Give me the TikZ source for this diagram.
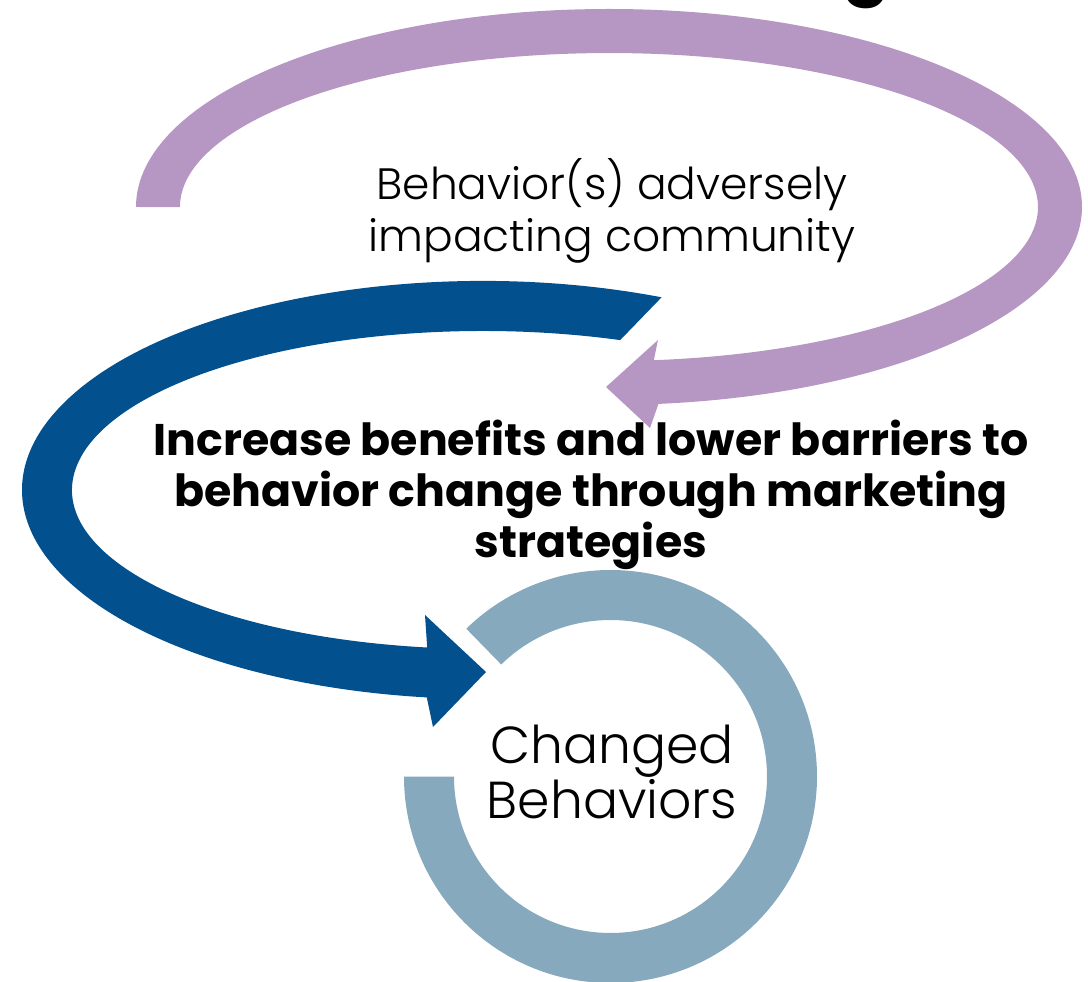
\documentclass[tikz,border=0pt]{standalone}
\usepackage{fontspec}
\setmainfont{Poppins}[UprightFont=* Light, BoldFont=* Bold]
\usetikzlibrary{calc}
\definecolor{mauve}{HTML}{B697C3}
\definecolor{bleuFonce}{HTML}{02508E}
\definecolor{bleuGris}{HTML}{87A9BD}
\begin{document}
\begin{tikzpicture}[yscale=-1]

        % Styles
        \tikzstyle{leger}=[align=center, inner sep=0pt, font=\fontsize{12.5}{14.8}\selectfont]
        \tikzstyle{gras}=[align=center, inner sep=0pt, font=\bfseries\fontsize{12.6}{14.5}\selectfont]
        \tikzstyle{cercle}=[align=center, inner sep=0pt, font=\fontsize{14.8}{15.6}\selectfont]

        \useasboundingbox (0,0) rectangle (10.88,9.82);

        % Centres
        \coordinate (centreHaut) at (6.09,2.07);
        \coordinate (centreGauche) at (4.83,4.90);
        \coordinate (centreAnneau) at (6.105,7.765);

        % Flèches
        \fill[mauve] (centreHaut) ++(180:4.73) arc[start angle=180, end angle=444, x radius=4.73, y radius=1.98]
            -- (6.50,4.28) -- (6.06,3.87) -- (6.58,3.40) -- (6.538,3.602)
            arc[start angle=444, end angle=180, x radius=4.29, y radius=1.54] -- cycle;
        \fill[bleuFonce] (6.616,2.973) arc[start angle=-67.2, end angle=-263, x radius=4.61, y radius=2.09]
            -- (4.33,7.27) -- (4.86,6.72) -- (4.25,6.15) -- (4.272,6.475)
            arc[start angle=-262.2, end angle=-70.5, x radius=4.11, y radius=1.59] -- cycle;

        % Anneau
        \fill[bleuGris] (centreAnneau) ++(180:2.065) arc[start angle=180, end angle=-134.3, radius=2.065]
            -- ($(centreAnneau)+(-134.3:1.565)$) arc[start angle=-134.3, end angle=180, radius=1.565] -- cycle;

        % Nœuds
        \node[font=\bfseries\fontsize{20}{20}\selectfont, anchor=base, inner sep=0pt] (titre) at (8.66,-0.10) {g};
        \node[leger] (probleme) at (6.12,2.11) {Behavior(s) adversely\\impacting community};
        \node[gras] (strategie) at (5.91,4.95) {Increase benefits and lower barriers to\\behavior change through marketing\\strategies};
        \node[cercle] (resultat) at (6.12,7.72) {Changed\\Behaviors};

\end{tikzpicture}
\end{document}
